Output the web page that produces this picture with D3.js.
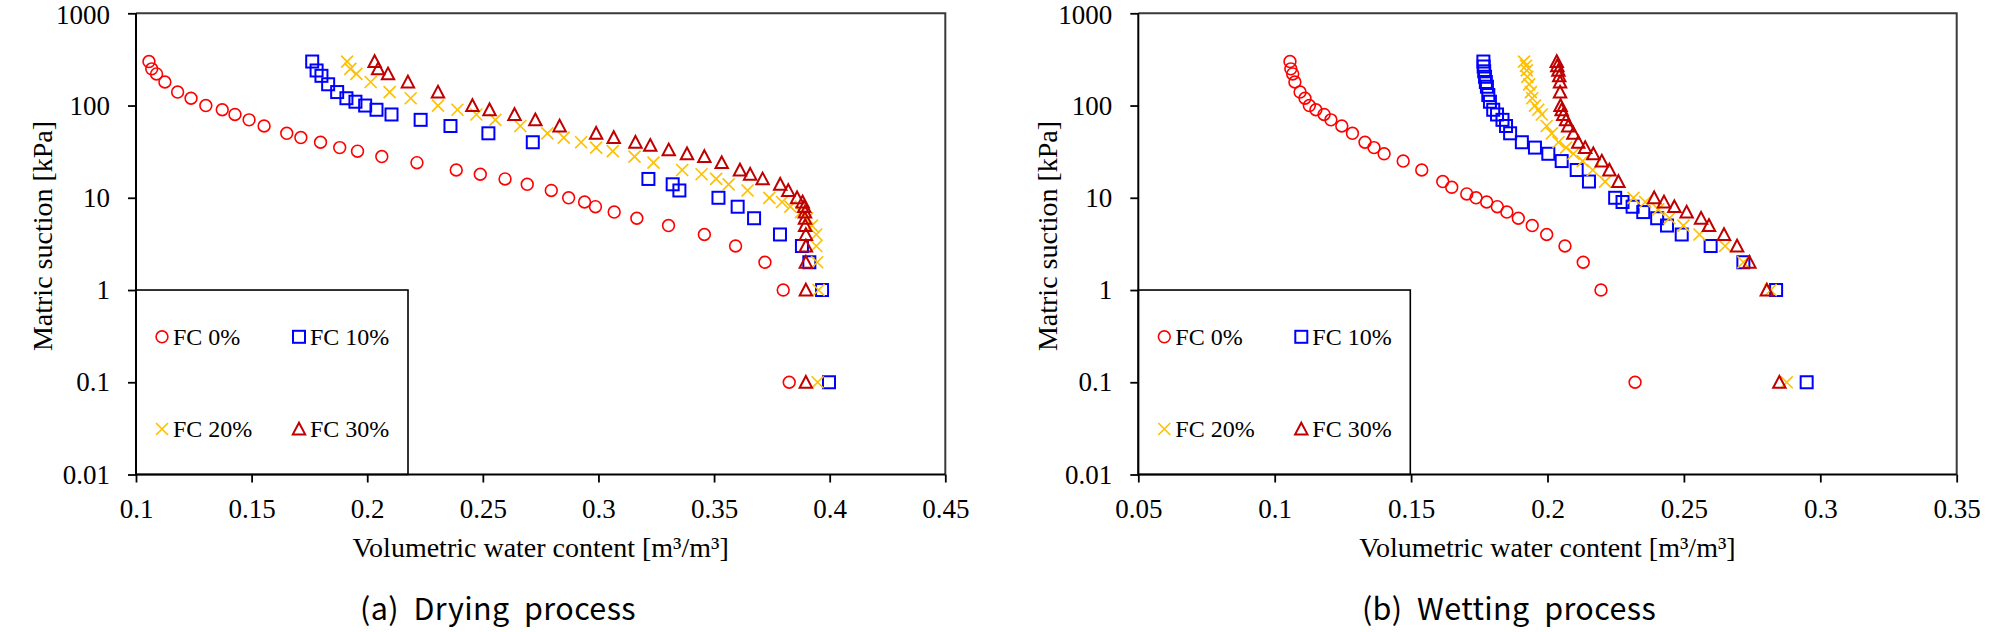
<!DOCTYPE html>
<html><head><meta charset="utf-8">
<script src="https://cdn.jsdelivr.net/npm/d3@7"></script>
<style>html,body{margin:0;padding:0;background:#fff;}svg{display:block;}</style>
</head><body>
<svg id="chart" width="2008" height="632"></svg>
<script>
// ---------- DATA (volumetric water content [m3/m3], matric suction [kPa]) ----------
const dryFC0 = [[0.1056,300],[0.1068,250],[0.1089,220],[0.1125,180],[0.118,140],[0.1238,120],[0.1302,100],[0.1373,90],[0.1428,80],[0.1489,70],[0.1554,60],[0.1652,50],[0.1713,45],[0.1798,40],[0.1881,35],[0.1958,32],[0.2063,28],[0.2215,24],[0.2385,20],[0.2489,18],[0.2596,16],[0.2692,14],[0.2796,12],[0.2871,10],[0.294,9],[0.2987,8],[0.3068,7],[0.3166,6],[0.3303,5],[0.3458,4],[0.3593,3],[0.372,2],[0.3799,1],[0.3825,0.1]];
const dryFC10 = [[0.1762,300],[0.1781,240],[0.1802,210],[0.1831,170],[0.187,140],[0.191,120],[0.1949,110],[0.1991,100],[0.204,90],[0.2105,80],[0.2231,70],[0.236,60],[0.2524,50],[0.2716,40],[0.3216,16],[0.3321,14],[0.335,12],[0.3519,10],[0.3602,8],[0.3673,6],[0.3785,4],[0.388,3],[0.3912,2],[0.3967,1],[0.3997,0.1]];
const dryFC20 = [[0.1913,300],[0.1927,250],[0.1953,220],[0.2015,180],[0.2097,140],[0.2188,120],[0.2306,100],[0.239,90],[0.2472,80],[0.2554,70],[0.2662,60],[0.2779,50],[0.285,45],[0.2925,40],[0.299,35],[0.3062,32],[0.3156,28],[0.3238,24],[0.3362,20],[0.3446,18],[0.3509,16],[0.3563,14],[0.3645,12],[0.3739,10],[0.3794,9],[0.383,8],[0.3876,7],[0.3903,6],[0.3923,5],[0.3942,4],[0.3942,3],[0.3946,2],[0.3952,1],[0.3948,0.1]];
const dryFC30 = [[0.2032,300],[0.2047,250],[0.209,220],[0.2176,180],[0.2306,140],[0.2455,100],[0.2529,90],[0.2637,80],[0.2727,70],[0.2832,60],[0.299,50],[0.3066,45],[0.316,40],[0.3224,37],[0.3304,33],[0.3383,30],[0.3458,28],[0.3533,24],[0.3612,20],[0.3656,18],[0.371,16],[0.3786,14],[0.3821,12],[0.3859,10],[0.3883,9],[0.389,8],[0.3893,7],[0.3893,6],[0.3894,5],[0.3897,4],[0.3897,3],[0.3897,2],[0.3897,1],[0.3897,0.1]];

const wetFC0 = [[0.1056,300],[0.1059,250],[0.1066,220],[0.1074,180],[0.1093,140],[0.1111,120],[0.1127,100],[0.1151,90],[0.1181,80],[0.1206,70],[0.1246,60],[0.1285,50],[0.1331,40],[0.1364,35],[0.1401,30],[0.1471,25],[0.1539,20],[0.1616,15],[0.1649,13],[0.1704,11],[0.1738,10],[0.1777,9],[0.1816,8],[0.1851,7],[0.1893,6],[0.1944,5],[0.1997,4],[0.2064,3],[0.2131,2],[0.2196,1],[0.2321,0.1]];
const wetFC10 = [[0.1765,300],[0.1766,265],[0.1768,235],[0.1771,205],[0.1774,180],[0.1778,160],[0.1783,130],[0.1789,110],[0.1801,90],[0.1815,80],[0.1835,70],[0.1848,60],[0.1863,50],[0.1906,40],[0.1954,35],[0.2003,30],[0.2052,25],[0.2107,20],[0.2152,15],[0.2248,10],[0.2275,9],[0.2312,8],[0.2351,7],[0.2402,6],[0.2438,5],[0.2492,4],[0.2598,3],[0.2718,2],[0.2838,1],[0.295,0.1]];
const wetFC20 = [[0.1914,300],[0.1921,270],[0.1924,240],[0.1926,205],[0.1933,170],[0.1939,140],[0.1944,120],[0.1954,100],[0.1966,90],[0.1979,80],[0.1997,60],[0.2016,50],[0.204,40],[0.2068,35],[0.2095,30],[0.2129,25],[0.2166,20],[0.2211,15],[0.2315,10],[0.2358,9],[0.2406,7.5],[0.2447,6],[0.2498,5],[0.2557,4],[0.2651,3],[0.2718,2],[0.2818,1],[0.2877,0.1]];
const wetFC30 = [[0.2034,300],[0.2036,270],[0.204,240],[0.2043,210],[0.2046,180],[0.2046,140],[0.2048,100],[0.2052,90],[0.2058,80],[0.2068,70],[0.2076,60],[0.2095,50],[0.2113,40],[0.2138,35],[0.2168,30],[0.2199,25],[0.2227,20],[0.226,15],[0.2391,10],[0.2427,9],[0.2465,8],[0.251,7],[0.2563,6],[0.2592,5],[0.2647,4],[0.2695,3],[0.274,2],[0.2804,1],[0.285,0.1]];

const seriesNames = ["FC 0%","FC 10%","FC 20%","FC 30%"];
const yTicks = [0.01,0.1,1,10,100,1000];
const xTicksDry = [0.1,0.15,0.2,0.25,0.3,0.35,0.4,0.45];
const xTicksWet = [0.05,0.1,0.15,0.2,0.25,0.3,0.35];
const xTitle = "Volumetric water content [m³/m³]";
const yTitle = "Matric suction [kPa]";
const captions = ["(a)  Drying  process","(b)  Wetting  process"];

// ---------- STYLE ----------
const colors = ["#FF0000","#0000FF","#FFC000","#C00000"];
const serif = "'Liberation Serif','Times New Roman',serif";
const sans = "'Noto Sans CJK KR','Noto Sans',sans-serif";

const svg = d3.select("#chart");

const panels = [
  {data:[dryFC0,dryFC10,dryFC20,dryFC30], xDomain:[0.1,0.45], x0:136, x1:945.3, ticks:xTicksDry, caption:captions[0], capX:498, yTitleX:42},
  {data:[wetFC0,wetFC10,wetFC20,wetFC30], xDomain:[0.05,0.35], x0:1138.3, x1:1956.7, ticks:xTicksWet, caption:captions[1], capX:1509, yTitleX:1047}
];
const yTop = 13.3, yBot = 474.5;

function drawMarker(g, type, color){
  if(type===0){
    g.append("circle").attr("r",5.9).attr("fill","none").attr("stroke",color).attr("stroke-width",1.6);
  } else if(type===1){
    g.append("rect").attr("x",-6).attr("y",-6).attr("width",12).attr("height",12)
      .attr("fill","none").attr("stroke",color).attr("stroke-width",2);
  } else if(type===2){
    g.append("path").attr("d","M-6,-6L6,6M-6,6L6,-6").attr("fill","none").attr("stroke",color).attr("stroke-width",1.7);
  } else {
    g.append("path").attr("d","M0,-6.3L6.2,5.4L-6.2,5.4Z").attr("fill","none").attr("stroke",color)
      .attr("stroke-width",2).attr("stroke-linejoin","miter");
  }
}

panels.forEach(p=>{
  const x = d3.scaleLinear().domain(p.xDomain).range([p.x0,p.x1]);
  const y = d3.scaleLog().domain([0.01,1000]).range([yBot,yTop]);
  const g = svg.append("g");

  // top & right border
  g.append("path").attr("d",`M${p.x0},${yTop}H${p.x1}V${yBot}`)
    .attr("fill","none").attr("stroke","#3a3a3a").attr("stroke-width",2);

  // legend box
  const lg = g.append("g");
  lg.append("rect").attr("x",p.x0).attr("y",y(1)).attr("width",272).attr("height",y(0.01)-y(1))
    .attr("fill","#fff").attr("stroke","#000").attr("stroke-width",1.6);
  const legPos = [[26,336.8],[163,336.8],[26,429],[163,429]];
  seriesNames.forEach((n,i)=>{
    const m = lg.append("g").attr("transform",`translate(${p.x0+legPos[i][0]},${legPos[i][1]})`);
    drawMarker(m,i,colors[i]);
    lg.append("text").attr("x",p.x0+legPos[i][0]+11).attr("y",legPos[i][1]+8)
      .attr("font-family",serif).attr("font-size",24).attr("fill","#000").text(n);
  });

  // axes
  const xAxis = d3.axisBottom(x).tickValues(p.ticks).tickSize(8).tickPadding(16)
    .tickFormat(d=>String(Math.round(d*100)/100));
  const gx = g.append("g").attr("transform",`translate(0,${yBot})`).call(xAxis);
  const yAxis = d3.axisLeft(y).tickValues(yTicks).tickSize(8).tickPadding(18)
    .tickFormat(d=>String(d));
  const gy = g.append("g").attr("transform",`translate(${p.x0},0)`).call(yAxis);
  [gx,gy].forEach(a=>{
    a.select(".domain").attr("stroke","#000").attr("stroke-width",2)
      .attr("d", a===gx ? `M${p.x0},0H${p.x1}` : `M0,${yBot}V${yTop}`);
    a.selectAll(".tick line").attr("stroke","#000").attr("stroke-width",1.8);
    a.selectAll(".tick text").attr("font-family",serif).attr("font-size",27).attr("fill","#000");
  });
  // keep the top label fully inside the page
  gy.selectAll(".tick text").filter(d=>d===1000).attr("dy","0.38em");

  // data
  p.data.forEach((ser,i)=>{
    g.append("g").selectAll("g").data(ser).join("g")
      .attr("transform",d=>`translate(${x(d[0])},${y(d[1])})`)
      .each(function(){ drawMarker(d3.select(this),i,colors[i]); });
  });

  // titles
  g.append("text").attr("x",(p.x0+p.x1)/2).attr("y",557).attr("text-anchor","middle")
    .attr("font-family",serif).attr("font-size",28).attr("fill","#000").text(xTitle);
  g.append("text").attr("transform",`translate(${p.yTitleX},236) rotate(-90)`).attr("text-anchor","middle")
    .attr("dominant-baseline","central")
    .attr("font-family",serif).attr("font-size",28).attr("fill","#000").text(yTitle);
  g.append("text").attr("x",p.capX).attr("y",620).attr("text-anchor","middle")
    .attr("font-family",sans).attr("font-size",30.5).attr("font-weight",400)
    .attr("letter-spacing",0.4).attr("fill","#000")
    .style("white-space","pre").text(p.caption);
});
</script>
</body></html>
